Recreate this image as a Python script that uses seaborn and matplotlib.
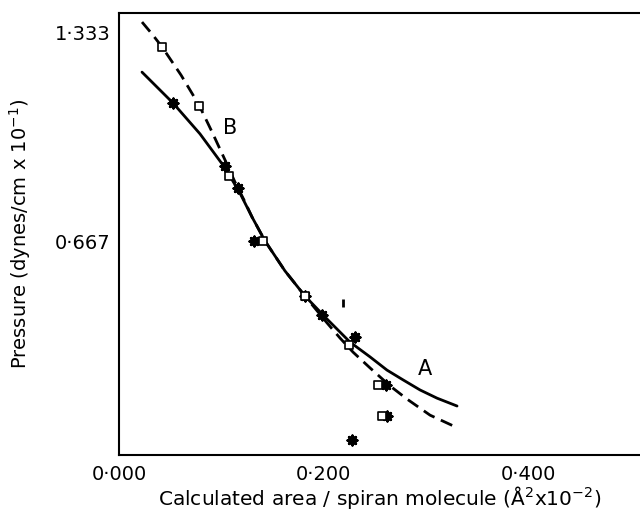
import numpy as np
import pandas as pd
import matplotlib
matplotlib.use("Agg")
import matplotlib.pyplot as plt
import seaborn as sns

# Curve A (solid)
curve_a_x = [0.0225, 0.0528, 0.0792, 0.1037, 0.1183, 0.1301, 0.1428, 0.1623, 0.1819,
             0.2044, 0.2259, 0.2455, 0.2621, 0.2778, 0.2944, 0.3110, 0.3306]
curve_a_y = [1.206, 1.108, 1.010, 0.902, 0.822, 0.746, 0.670, 0.575, 0.495,
             0.419, 0.349, 0.302, 0.260, 0.229, 0.197, 0.171, 0.146]

# Curve B (dashed)
curve_b_x = [0.0225, 0.0323, 0.0421, 0.0606, 0.0782, 0.0910, 0.1037, 0.1134, 0.1232,
             0.1301, 0.1428, 0.1623, 0.1819, 0.2034, 0.2161, 0.2289, 0.2455, 0.2650,
             0.2817, 0.3042, 0.3315]
curve_b_y = [1.365, 1.327, 1.286, 1.197, 1.102, 1.016, 0.927, 0.857, 0.794,
             0.746, 0.670, 0.575, 0.495, 0.410, 0.362, 0.317, 0.267, 0.210,
             0.168, 0.117, 0.076]

# Open squares
square_x = [0.0421, 0.0782, 0.1076, 0.1408, 0.1819, 0.2249, 0.2533, 0.2572]
square_y = [1.286, 1.098, 0.876, 0.670, 0.495, 0.340, 0.213, 0.114]

# Asterisk points
star_x = [0.0528, 0.1037, 0.1164, 0.1320, 0.1819, 0.1985, 0.2308, 0.2611, 0.2621, 0.2279]
star_y = [1.108, 0.908, 0.838, 0.670, 0.495, 0.435, 0.365, 0.213, 0.114, 0.038]

# stray mark
stray_x = [0.219]
stray_y = [0.473]

x_ticks = [0.0, 0.1, 0.2, 0.3, 0.4, 0.5]
x_tick_labels = ["0·000", "", "0·200", "", "0·400", ""]
y_ticks = [0.0, 0.333, 0.667, 1.0, 1.333]
y_tick_labels = ["", "", "0·667", "", "1·333"]

sns.set_theme(style="white")
plt.rcParams['font.family'] = ['DejaVu Sans']

fig = plt.figure(figsize=(6.4, 5.11), dpi=100)
ax = fig.add_axes([119/640, 1-455/511, 1-119/640, (455-13)/511])

df_a = pd.DataFrame({"x": curve_a_x, "y": curve_a_y})
df_b = pd.DataFrame({"x": curve_b_x, "y": curve_b_y})
sns.lineplot(data=df_a, x="x", y="y", sort=False, ax=ax, color="black", lw=2.0)
sns.lineplot(data=df_b, x="x", y="y", sort=False, ax=ax, color="black", lw=2.0,
             linestyle=(0, (4.5, 2.5)))

sns.scatterplot(x=star_x, y=star_y, ax=ax, marker=(8, 2, 0), s=45, color="black",
                linewidth=2.0, edgecolor="black", zorder=4)
sns.scatterplot(x=square_x, y=square_y, ax=ax, marker="s", s=38, color="white",
                edgecolor="black", linewidth=1.2, zorder=5)
sns.scatterplot(x=stray_x, y=stray_y, ax=ax, marker="|", s=40, color="black",
                linewidth=2.0, zorder=4)

ax.text(0.1085, 1.03, "B", fontsize=15, color="black", ha="center", va="center")
ax.text(0.2995, 0.264, "A", fontsize=15, color="black", ha="center", va="center")

ax.set_xlim(0, (640-119)/1022.5)
ax.set_ylim(-0.0095, 1.3937)
ax.set_xticks(x_ticks)
ax.set_xticklabels(x_tick_labels, fontsize=14)
ax.set_yticks(y_ticks)
ax.set_yticklabels(y_tick_labels, fontsize=14)
ax.tick_params(direction="in", length=6, width=1.2, color="black", labelcolor="black")
ax.tick_params(axis="x", pad=7)
ax.tick_params(axis="y", pad=6)

for s in ["left", "bottom", "top"]:
    ax.spines[s].set_visible(True)
    ax.spines[s].set_color("black")
    ax.spines[s].set_linewidth(1.5)
ax.spines["right"].set_visible(False)

ax.set_xlabel("Calculated area / spiran molecule (Å$^2$x10$^{-2}$)", fontsize=14.5, labelpad=0,
              color="black")
ax.set_ylabel("Pressure (dynes/cm x 10$^{-1}$)", fontsize=14, labelpad=16, color="black")
ax.grid(False)

fig.savefig("out.png", dpi=100)
